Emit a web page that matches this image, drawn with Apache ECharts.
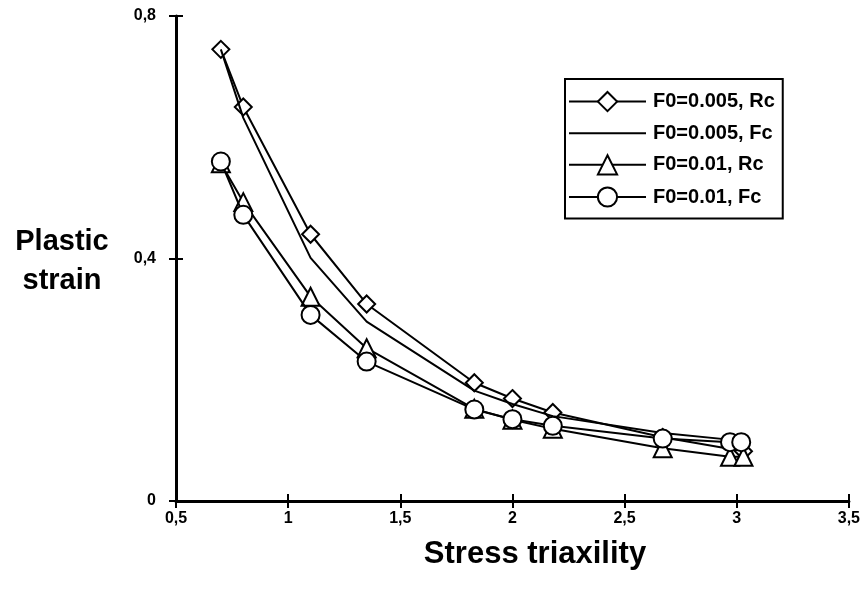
<!DOCTYPE html>
<html>
<head>
<meta charset="utf-8">
<script src="https://cdn.jsdelivr.net/npm/echarts@6/dist/echarts.min.js"></script>
<style>
  html, body { margin: 0; padding: 0; background: #fff; }
  #chart { width: 863px; height: 602px; }
</style>
</head>
<body>
<div id="chart"></div>
<script>
// Plastic strain vs. stress triaxiality for two initial porosities (F0)
const seriesNames = ['F0=0.005, Rc', 'F0=0.005, Fc', 'F0=0.01, Rc', 'F0=0.01, Fc'];

const triax005Rc = [0.70, 0.80, 1.10, 1.35, 1.83, 2.00, 2.18, 2.67, 3.03];
const strain005Rc = [0.745, 0.650, 0.440, 0.325, 0.195, 0.169, 0.146, 0.105, 0.082];

const triax005Fc = [0.70, 0.80, 1.10, 1.35, 1.83, 2.00, 2.18, 2.67, 3.00];
const strain005Fc = [0.745, 0.632, 0.401, 0.296, 0.182, 0.160, 0.140, 0.112, 0.100];

const triax01Rc = [0.70, 0.80, 1.10, 1.35, 1.83, 2.00, 2.18, 2.67, 2.97, 3.03];
const strain01Rc = [0.557, 0.493, 0.337, 0.252, 0.152, 0.134, 0.119, 0.087, 0.073, 0.073];

const triax01Fc = [0.70, 0.80, 1.10, 1.35, 1.83, 2.00, 2.18, 2.67, 2.97, 3.02];
const strain01Fc = [0.560, 0.472, 0.307, 0.230, 0.151, 0.135, 0.124, 0.103, 0.097, 0.097];

const xTickLabels = ['0,5', '1', '1,5', '2', '2,5', '3', '3,5'];
const yTickLabels = ['0', '0,4', '0,8'];

const FONT = 'Arial, "Liberation Sans", sans-serif';

function pairs(xs, ys) { return xs.map((x, i) => [x, ys[i]]); }
function xLabel(v) { return xTickLabels[Math.round((v - 0.5) / 0.5)] ?? ''; }
function yLabel(v) { return yTickLabels[Math.round(v / 0.4)] ?? ''; }

const chart = echarts.init(document.getElementById('chart'), null, { renderer: 'canvas' });

const lineStyle = { color: '#000', width: 2 };
const markerStyle = { color: '#fff', borderColor: '#000', borderWidth: 2 };
const tickStyle = { color: '#000', width: 2 };

const baseX = { type: 'value', min: 0.5, max: 3.5, interval: 0.5, splitLine: { show: false } };
const baseY = { type: 'value', min: 0, max: 0.8, interval: 0.4, splitLine: { show: false } };

function titleText(text, x, y, size) {
  return {
    type: 'text', x: x, y: y, z: 10,
    style: {
      text: text, textAlign: 'center', textVerticalAlign: 'middle', fill: '#000',
      fontFamily: FONT, fontWeight: 'bold', fontSize: size
    }
  };
}

chart.setOption({
  animation: false,
  backgroundColor: '#fff',
  textStyle: { fontFamily: FONT },
  grid: { left: 176, right: 14, top: 16, bottom: 101, containLabel: false },
  // Each axis is paired with a label-less twin whose ticks point inward, so ticks cross the axis line
  xAxis: [
    Object.assign({}, baseX, {
      axisLine: { show: true, lineStyle: { color: '#000', width: 3 } },
      axisTick: { show: true, inside: false, length: 7, lineStyle: tickStyle },
      axisLabel: { show: true, margin: 10, color: '#000', fontFamily: FONT, fontWeight: 'bold', fontSize: 16, formatter: xLabel }
    }),
    Object.assign({}, baseX, {
      position: 'bottom',
      axisLine: { show: false },
      axisTick: { show: true, inside: true, length: 7, lineStyle: tickStyle },
      axisLabel: { show: false }
    })
  ],
  yAxis: [
    Object.assign({}, baseY, {
      axisLine: { show: true, lineStyle: { color: '#000', width: 3 } },
      axisTick: { show: true, inside: false, length: 7, lineStyle: tickStyle },
      axisLabel: { show: true, margin: 20, color: '#000', fontFamily: FONT, fontWeight: 'bold', fontSize: 16, formatter: yLabel }
    }),
    Object.assign({}, baseY, {
      position: 'left',
      axisLine: { show: false },
      axisTick: { show: true, inside: true, length: 7, lineStyle: tickStyle },
      axisLabel: { show: false }
    })
  ],
  legend: {
    orient: 'vertical',
    left: 565,
    top: 79,
    padding: [12, 8, 11, 3],
    itemWidth: 77,
    itemHeight: 24,
    itemGap: 11,
    borderColor: '#000',
    borderWidth: 2,
    backgroundColor: '#fff',
    textStyle: { color: '#000', fontFamily: FONT, fontWeight: 'bold', fontSize: 20, padding: [0, 0, 0, 2] },
    data: [
      seriesNames[0],
      { name: seriesNames[1], itemStyle: { opacity: 0 } },
      seriesNames[2],
      seriesNames[3]
    ]
  },
  graphic: [
    titleText('Plastic', 62, 242, 29),
    titleText('strain', 62, 281, 29),
    titleText('Stress triaxility', 535, 554, 31)
  ],
  series: [
    {
      name: seriesNames[0], type: 'line', data: pairs(triax005Rc, strain005Rc),
      symbol: 'diamond', symbolSize: 17, showAllSymbol: true,
      lineStyle: lineStyle, itemStyle: markerStyle, z: 2
    },
    {
      name: seriesNames[1], type: 'line', data: pairs(triax005Fc, strain005Fc),
      symbol: 'none', lineStyle: lineStyle, itemStyle: { color: '#000', opacity: 0 }, z: 3
    },
    {
      name: seriesNames[2], type: 'line', data: pairs(triax01Rc, strain01Rc),
      symbol: 'triangle', symbolSize: 18, showAllSymbol: true,
      lineStyle: lineStyle, itemStyle: markerStyle, z: 4
    },
    {
      name: seriesNames[3], type: 'line', data: pairs(triax01Fc, strain01Fc),
      symbol: 'circle', symbolSize: 18, showAllSymbol: true,
      lineStyle: lineStyle, itemStyle: markerStyle, z: 5
    }
  ]
});
</script>
</body>
</html>
